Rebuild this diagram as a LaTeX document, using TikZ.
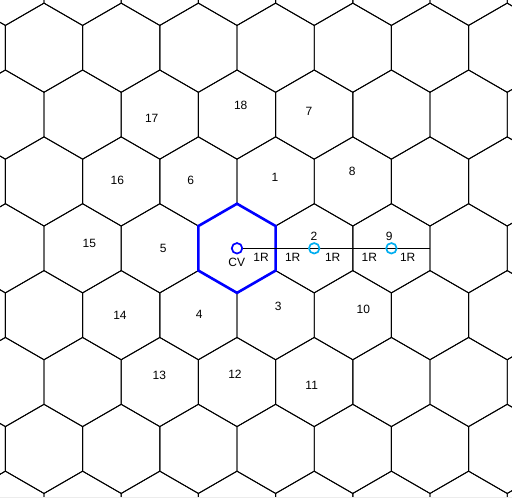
\documentclass[tikz,border=0pt]{standalone}
\usepackage{fontspec}
\setmainfont{Liberation Sans}
\usetikzlibrary{positioning}

\begin{document}
\begin{tikzpicture}[x=1pt, y=-1pt,
		grid/.style={draw=black, line width=0.9pt, line join=miter},
		home/.style={draw=blue, line width=2.6pt, line join=miter},
		cell/.style={font=\fontsize{12}{14}\selectfont, inner sep=0pt},
		dist/.style={font=\fontsize{12}{14}\selectfont, inner sep=0pt},
		ring/.style={circle, draw=cyan, line width=1.7pt, minimum size=10.5pt, inner sep=0pt},
		base/.style={circle, draw=blue, line width=1.7pt, minimum size=10.5pt, inner sep=0pt}
	]
	\useasboundingbox (0,0) rectangle (512,500);
	% Hexagonal grid
	\begin{scope}
		\clip (0,0) rectangle (512,497);
		\foreach \j in {-4,...,4}
		\foreach \i in {-4,...,4} {
			\pgfmathsetmacro\cx{237+77.2*\i+38.6*mod(\j+10,2)}
			\pgfmathsetmacro\cy{248.3+66.86*\j}
			\draw[grid] (\cx,\cy) +(90:44.57) -- +(30:44.57) -- +(-30:44.57) -- +(-90:44.57) -- +(-150:44.57) -- +(150:44.57) -- cycle;
		}
	\end{scope}
	\draw[gray!15, line width=0.8pt] (0,497.5) -- (512,497.5);

	% Serving cell
	\draw[home] (237,248.3) +(90:44.57) -- +(30:44.57) -- +(-30:44.57) -- +(-90:44.57) -- +(-150:44.57) -- +(150:44.57) -- cycle;

	% Cell numbers
	\foreach \n/\x/\y in {17/151.7/118.3, 18/240.7/105, 7/309/111.7, 16/117.3/180.7, 6/190.7/180.7,
		1/275/177.3, 8/352.3/171.7, 15/89.3/243.3, 5/163.3/248.3, 2/314/236.7, 9/389.3/236.7,
		14/120/315, 4/199.3/314, 3/278.3/306.7, 10/363.3/309.3, 13/159.3/375, 12/235/374, 11/311.7/385}
		\node[cell] (h\n) at (\x,\y) {\n};

	% Distance line
	\node[base] (cv) at (237,248.3) {};
	\coordinate (lineend) at (430,248.3);
	\draw[line width=0.7pt] (cv) -- (lineend);
	\node[ring] (c2) at (314.2,248.3) {};
	\node[ring] (c9) at (391.4,248.3) {};
	\node[cell] (cvlabel) at (236.7,262.7) {CV};
	\foreach \k/\x in {1/261, 2/292.7, 3/332.7, 4/369.3, 5/407.7}
		\node[dist] (r\k) at (\x,257.7) {1R};
\end{tikzpicture}
\end{document}
